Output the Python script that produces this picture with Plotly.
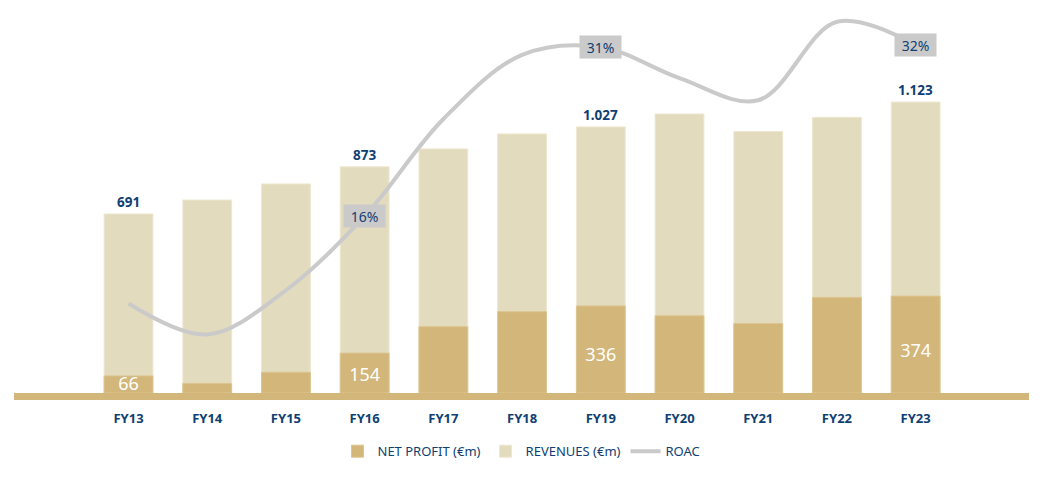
import plotly.graph_objects as go

years = ["FY13", "FY14", "FY15", "FY16", "FY17", "FY18", "FY19", "FY20", "FY21", "FY22", "FY23"]
revenues = [691, 745, 807, 873, 942, 1000, 1027, 1077, 1009, 1064, 1123]
net_profit = [66, 37, 80, 154, 256, 314, 336, 298, 268, 369, 374]
roac = [8.1, 5.3, 9.3, 16, 24.8, 30.6, 31.3, 28.5, 26.5, 33.6, 31.5]

rev_labels = ["691", "", "", "873", "", "", "1.027", "", "", "", "1.123"]
np_labels = ["66", "", "", "154", "", "", "336", "", "", "", "374"]
roac_labels = ["", "", "", "16%", "", "", "31%", "", "", "", "32%"]

NAVY = "#0F3F73"
TAN = "#D3B67A"
BEIGE = "#E3DBBE"
GREY = "#CBCACA"
FONT = "Noto Sans"

fig = go.Figure()
fig.add_trace(go.Bar(x=years, y=revenues, name="REVENUES (€m)", marker=dict(color=BEIGE, line=dict(width=1, color="#EDE7D0")),
                     width=0.62, legendrank=2, hoverinfo="skip"))
fig.add_trace(go.Bar(x=years, y=net_profit, name="NET PROFIT (€m)", marker=dict(color=TAN, line=dict(width=1, color="#DCC58F")),
                     width=0.62, legendrank=1, hoverinfo="skip"))
fig.add_trace(go.Scatter(x=years, y=roac, name="ROAC", yaxis="y2", mode="lines",
                         line=dict(color=GREY, width=4, shape="spline", smoothing=1.0), legendrank=3, hoverinfo="skip"))

# net profit labels inside bars
fig.add_trace(go.Scatter(x=years, y=[v * 0.42 for v in net_profit], text=np_labels, mode="text",
                         textfont=dict(color="white", size=18, family=FONT), showlegend=False, hoverinfo="skip"))

annotations = []
for yr, v, t in zip(years, revenues, rev_labels):
    if t:
        annotations.append(dict(x=yr, y=v, text=f"<b>{t}</b>", showarrow=False, yanchor="bottom", yshift=1,
                                font=dict(color=NAVY, size=13.5, family=FONT)))
for yr, v, t in zip(years, roac, roac_labels):
    if t:
        annotations.append(dict(x=yr, y=v, yref="y2", text=t, showarrow=False, bgcolor=GREY,
                                borderpad=2, font=dict(color=NAVY, size=14, family=FONT),
                                width=37, height=18))

fig.update_layout(
    width=1043, height=480,
    margin=dict(l=14, r=14, t=0, b=87),
    paper_bgcolor="white", plot_bgcolor="white",
    barmode="overlay",
    font=dict(family=FONT, color=NAVY),
    xaxis=dict(range=[-1.455, 11.44], showgrid=False, zeroline=False, showline=True, linecolor=TAN, linewidth=7,
               ticks="", tickfont=dict(size=13, color=NAVY, family=FONT), tickprefix="<b>", ticksuffix="</b>",
               ticklabelstandoff=7),
    yaxis=dict(range=[0, 1517], visible=False, showgrid=False, zeroline=False),
    yaxis2=dict(range=[0, 35.57], overlaying="y", side="right", visible=False, showgrid=False, zeroline=False),
    legend=dict(orientation="h", x=0.5, xanchor="center", y=-0.11, yanchor="top",
                font=dict(size=13, color=NAVY, family=FONT), itemwidth=30, traceorder="normal"),
    annotations=annotations,
    showlegend=True,
)

fig.write_html("out.html")
